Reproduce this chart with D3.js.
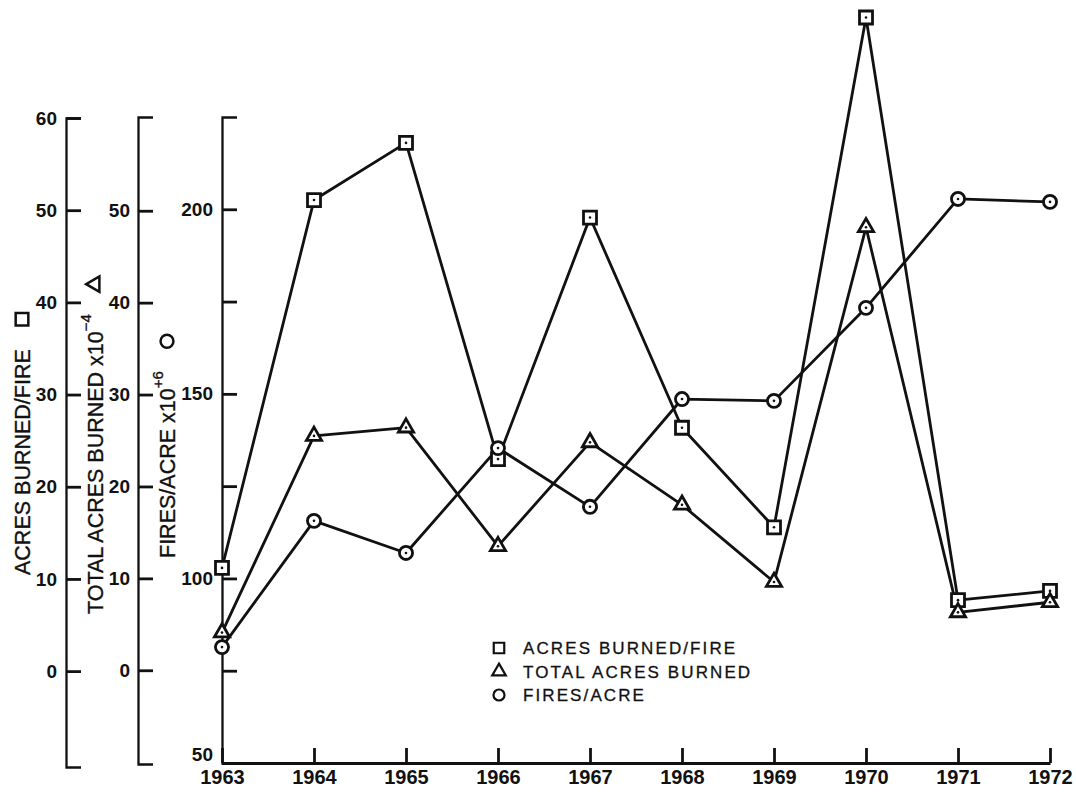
<!DOCTYPE html>
<html>
<head>
<meta charset="utf-8">
<script src="https://cdn.jsdelivr.net/npm/d3@7"></script>
<style>
  html, body { margin: 0; padding: 0; background: #fff; }
  svg { display: block; font-family: "Liberation Sans", Arial, Helvetica, sans-serif; }
</style>
</head>
<body>
<svg id="chart" width="1076" height="792"></svg>
<script>
const years = [1963, 1964, 1965, 1966, 1967, 1968, 1969, 1970, 1971, 1972];
const acres_per_fire = [11.2, 51.1, 57.3, 23.0, 49.2, 26.4, 15.6, 70.9, 7.7, 8.7];
const total_acres = [4.1, 25.5, 26.4, 13.5, 24.8, 18.0, 9.6, 48.2, 6.3, 7.4];
const fires_per_acre = [81.4, 115.6, 106.9, 135.3, 119.4, 148.6, 148.1, 173.3, 202.8, 202.0];

const acres_per_fire_ticks = [0, 10, 20, 30, 40, 50, 60];
const total_acres_ticks = [0, 10, 20, 30, 40, 50];
const fires_per_acre_ticks = [50, 75, 100, 125, 150, 175, 200];
const fires_per_acre_labels = [50, 100, 150, 200];

const legend_labels = ["ACRES BURNED/FIRE", "TOTAL ACRES BURNED", "FIRES/ACRE"];

const ink = "#111";
const line_width = 2.8;
const tick_length = 15;

window.addEventListener("load", () => {
  const svg = d3.select("#chart");

  const x = d3.scaleLinear().domain([1963, 1972]).range([222, 1050]);
  const y_acres_per_fire = d3.scaleLinear().domain([-10.4, 60]).range([767, 118]);
  const y_total_acres = d3.scaleLinear().domain([-10.2, 60.2]).range([764, 117]);
  const y_fires_per_acre = d3.scaleLinear().domain([50, 225]).range([763, 117]);

  const square = d3.symbol().type(d3.symbolSquare);
  const triangle = d3.symbol().type(d3.symbolTriangle);
  const circle = d3.symbol().type(d3.symbolCircle);

  const series = [
    { values: acres_per_fire, scale: y_acres_per_fire, shape: square, size: 169 },
    { values: total_acres, scale: y_total_acres, shape: triangle, size: 100 },
    { values: fires_per_acre, scale: y_fires_per_acre, shape: circle, size: 135 },
  ];

  function style_axis(g) {
    g.select(".domain").attr("stroke", ink).attr("stroke-width", 2.3);
    g.selectAll(".tick line").attr("stroke", ink).attr("stroke-width", line_width);
    g.selectAll(".tick text")
      .attr("fill", ink)
      .attr("font-size", 19)
      .attr("font-weight", "bold")
      .attr("font-family", null);
    g.attr("font-family", null).attr("font-size", null);
  }

  // three stacked y axes on the left, ticks pointing inward
  const axis_1 = svg
    .append("g")
    .attr("transform", "translate(66,0)")
    .call(
      d3.axisLeft(y_acres_per_fire)
        .tickValues(acres_per_fire_ticks)
        .tickSize(-tick_length)
        .tickSizeOuter(-tick_length)
        .tickPadding(9)
    );
  style_axis(axis_1);

  const axis_2 = svg
    .append("g")
    .attr("transform", "translate(138,0)")
    .call(
      d3.axisLeft(y_total_acres)
        .tickValues(total_acres_ticks)
        .tickSize(-tick_length)
        .tickSizeOuter(-tick_length)
        .tickPadding(8)
    );
  style_axis(axis_2);

  const axis_3 = svg
    .append("g")
    .attr("transform", "translate(222,0)")
    .call(
      d3.axisLeft(y_fires_per_acre)
        .tickValues(fires_per_acre_ticks)
        .tickSize(-tick_length)
        .tickSizeOuter(-tick_length)
        .tickPadding(9)
        .tickFormat((d) => (fires_per_acre_labels.includes(d) ? d : ""))
    );
  style_axis(axis_3);
  axis_3.selectAll(".tick text").filter((d) => d === 50).attr("dy", "-0.15em");

  const x_axis = svg
    .append("g")
    .attr("transform", `translate(0,${y_fires_per_acre(50)})`)
    .call(
      d3.axisBottom(x)
        .tickValues(years)
        .tickFormat(d3.format("d"))
        .tickSize(-tick_length)
        .tickSizeOuter(0)
        .tickPadding(7)
    );
  style_axis(x_axis);
  x_axis.select(".domain").attr("stroke-width", line_width);
  x_axis.selectAll(".tick text").attr("font-size", 20);

  // lines first, markers on top
  const line_group = svg.append("g");
  series.forEach((s) => {
    const line = d3
      .line()
      .x((d, i) => x(years[i]))
      .y((d) => s.scale(d));
    line_group
      .append("path")
      .attr("d", line(s.values))
      .attr("fill", "none")
      .attr("stroke", ink)
      .attr("stroke-width", line_width)
      .attr("stroke-linejoin", "round");
  });

  const marker_group = svg.append("g");
  series.forEach((s) => {
    const m = marker_group
      .append("g")
      .selectAll("g")
      .data(s.values)
      .join("g")
      .attr("transform", (d, i) => `translate(${x(years[i])},${s.scale(d)})`);
    m.append("path")
      .attr("d", s.shape.size(s.size)())
      .attr("fill", "#fff")
      .attr("stroke", ink)
      .attr("stroke-width", line_width);
    m.append("circle").attr("r", 1.3).attr("fill", ink);
  });

  // rotated axis titles with their symbols
  const titles = [
    { text: "ACRES BURNED/FIRE", sup: "", x: 22, y: 575, shape: square, area: 160 },
    { text: "TOTAL ACRES BURNED x10", sup: "\u22124", x: 95, y: 614, shape: triangle, area: 100 },
    { text: "FIRES/ACRE x10", sup: "+6", x: 167, y: 558, shape: circle, area: 130 },
  ];
  titles.forEach((t) => {
    const g = svg.append("g").attr("transform", `translate(${t.x},${t.y}) rotate(-90)`);
    const label = g
      .append("text")
      .attr("font-size", 21.5)
      .attr("fill", ink)
      .attr("stroke", ink)
      .attr("stroke-width", 0.35)
      .attr("dy", "0.35em")
      .text(t.text);
    if (t.sup) {
      label
        .append("tspan")
        .attr("font-size", 15)
        .attr("dy", "-0.8em")
        .text(t.sup);
    }
    const len = label.node().getComputedTextLength();
    g.append("path")
      .attr("transform", `translate(${len + 30},0)`)
      .attr("d", t.shape.size(t.area)())
      .attr("fill", "none")
      .attr("stroke", ink)
      .attr("stroke-width", 2.5);
  });

  // legend
  const legend_shapes = [square, triangle, circle];
  const legend_areas = [110, 80, 95];
  const legend = svg
    .append("g")
    .selectAll("g")
    .data(legend_labels)
    .join("g")
    .attr("transform", (d, i) => `translate(499,${648 + i * 23.5})`);
  legend
    .append("path")
    .attr("d", (d, i) => legend_shapes[i].size(legend_areas[i])())
    .attr("fill", "none")
    .attr("stroke", ink)
    .attr("stroke-width", 2.2);
  legend
    .append("text")
    .attr("x", 24)
    .attr("dy", "0.36em")
    .attr("font-size", 17)
    .attr("letter-spacing", 2.1)
    .attr("fill", ink)
    .attr("stroke", ink)
    .attr("stroke-width", 0.3)
    .text((d) => d);
});
</script>
</body>
</html>
